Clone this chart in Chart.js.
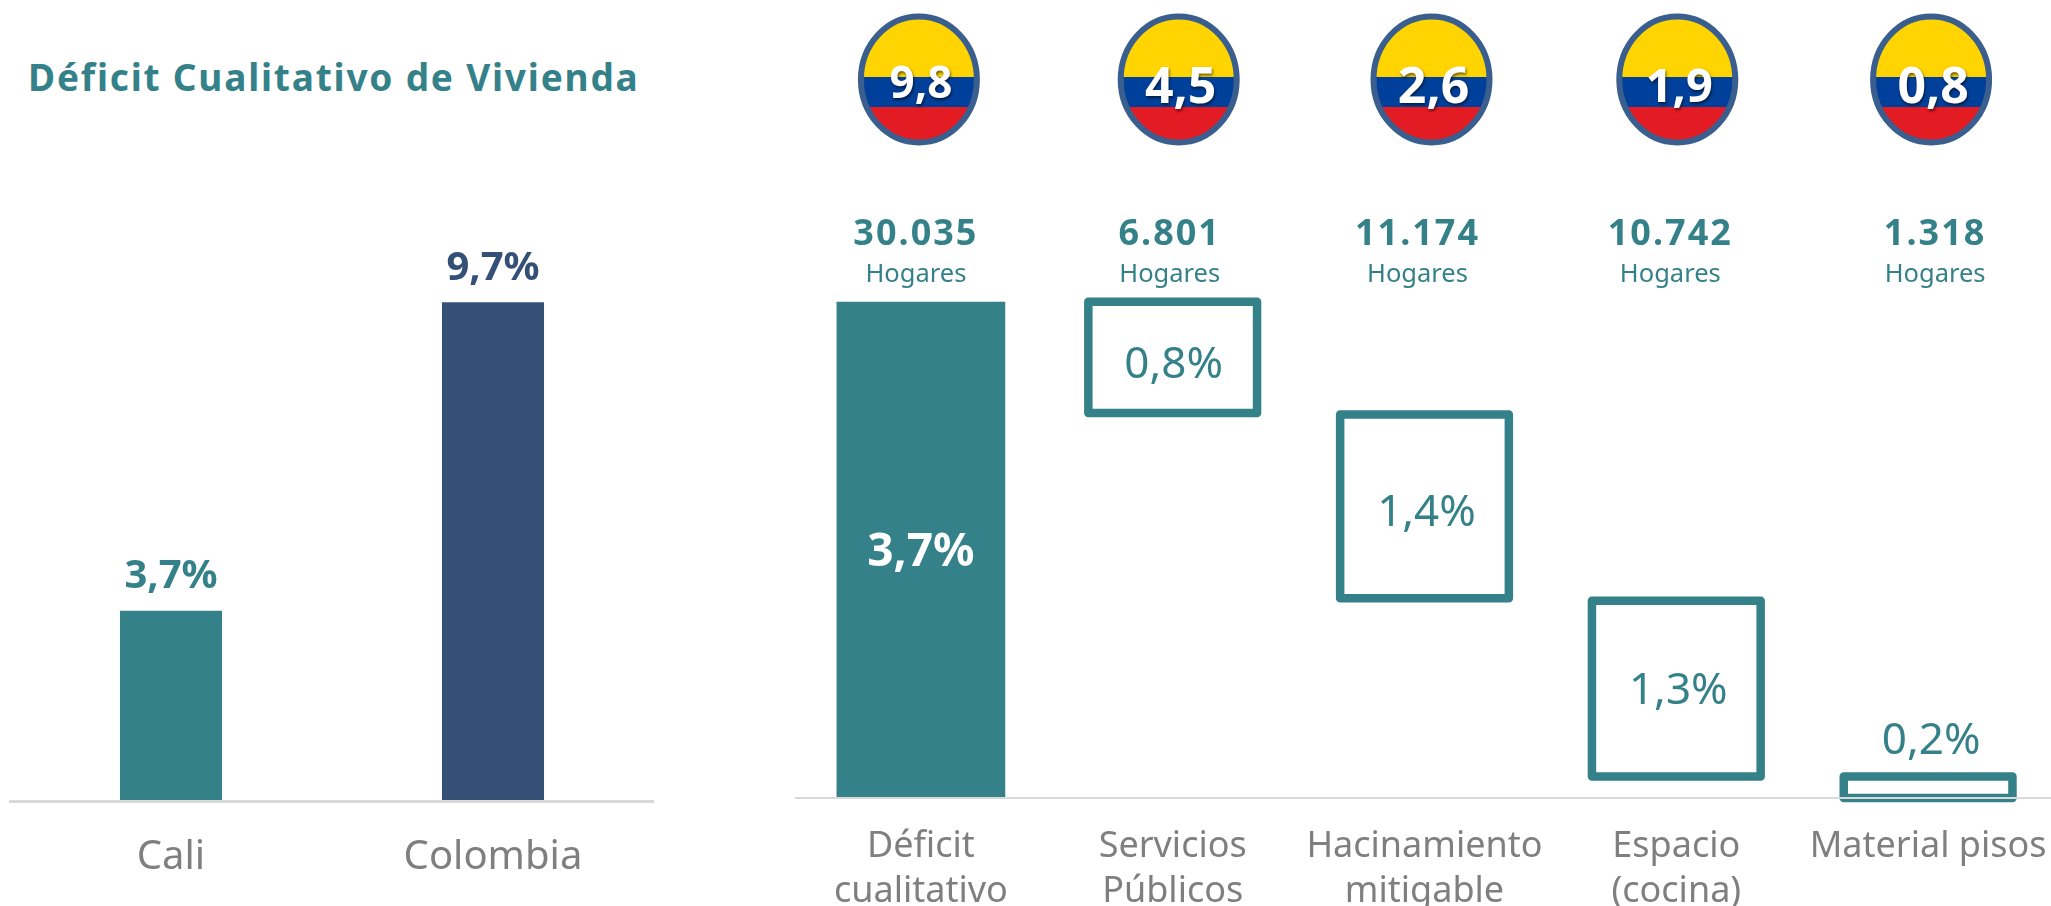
<!DOCTYPE html>
<html><head><meta charset="utf-8">
<script src="https://cdn.jsdelivr.net/npm/chart.js@4"></script>
<style>
html,body{margin:0;padding:0;background:#fff;width:2051px;height:906px;overflow:hidden}
#title{position:absolute;left:28px;top:54px;font:bold 37px "Noto Sans";color:#358189;letter-spacing:1.8px;white-space:nowrap;line-height:46px}
#a{position:absolute;left:0;top:0}
#b{position:absolute;left:795px;top:0}
</style></head><body>
<div id="title">Déficit Cualitativo de Vivienda</div>
<canvas id="a" width="654" height="906"></canvas>
<canvas id="b" width="1259" height="906"></canvas>
<script>
const FONT='"Noto Sans"';
const TEAL='#358189', NAVY='#345076', GREY='#7f7f7f', AXIS='#d9d9d9';

const leftCategories=['Cali','Colombia'];
const leftValues=[3.7,9.7];
const leftLabels=['3,7%','9,7%'];

const rightCategories=[['Déficit','cualitativo'],['Servicios','Públicos'],['Hacinamiento','mitigable'],['Espacio','(cocina)'],'Material pisos'];
const rightRanges=[[0,3.7],[2.87,3.7],[1.49,2.86],[0.16,1.47],[0,0.16]];
const rightLabels=['3,7%','0,8%','1,4%','1,3%','0,2%'];
const households=['30.035','6.801','11.174','10.742','1.318'];
const nationalValues=['9,8','4,5','2,6','1,9','0,8'];

Chart.defaults.animation=false;
Chart.defaults.responsive=false;
Chart.defaults.plugins.legend.display=false;
Chart.defaults.plugins.tooltip.enabled=false;

function xAxis(size,h,pad,lh,bw){return {
  afterFit(a){a.height=h;a.paddingLeft=0;a.paddingRight=0;},
  grid:{display:false,drawTicks:false},
  border:{color:AXIS,width:bw,z:1},
  ticks:{color:GREY,font:{family:FONT,size:size,lineHeight:lh/size},padding:pad,maxRotation:0,autoSkip:false}
};}

const leftPlugin={id:'leftLabels',afterDatasetsDraw(c){
  const ctx=c.ctx,m=c.getDatasetMeta(0);
  ctx.save();ctx.textAlign='center';ctx.textBaseline='middle';
  ctx.font='bold 40px '+FONT;
  m.data.forEach((b,i)=>{ctx.fillStyle=leftValues[i]>5?NAVY:TEAL;ctx.fillText(leftLabels[i],b.x,b.y-34);});
  ctx.restore();
}};

new Chart(document.getElementById('a'),{type:'bar',
  data:{labels:leftCategories,datasets:[{data:leftValues,backgroundColor:[TEAL,NAVY],barPercentage:0.317,categoryPercentage:1}]},
  options:{layout:{padding:{left:10}},scales:{x:xAxis(40,105,34,45,3),y:{display:false,min:0,max:15.58}}},
  plugins:[leftPlugin]});

const flagOffsets=[-2,6,7,1,3], hhOffsets=[-5,-3,-7,-6,7];
const labelDy=[3,8,7,3,-46], labelDx=[0,1,2,2,3];
const flagSizes=[44,50,50,47,50], flagDy=[1,5,5,5,5];
const rightPlugin={id:'rightMarks',afterDatasetsDraw(c){
  const ctx=c.ctx,m=c.getDatasetMeta(0);
  ctx.save();
  ctx.lineJoin='round';ctx.lineWidth=8.5;ctx.strokeStyle=TEAL;
  m.data.forEach((b,i)=>{ if(i===0)return;
    ctx.strokeRect(b.x-b.width/2,Math.min(b.y,b.base),b.width,Math.abs(b.base-b.y));});
  ctx.textAlign='center';ctx.textBaseline='middle';
  m.data.forEach((b,i)=>{
    ctx.font=(i===0?'bold 46px ':'44px ')+FONT;
    ctx.fillStyle=i===0?'#fff':TEAL;
    ctx.fillText(rightLabels[i],b.x+labelDx[i],(b.y+b.base)/2+labelDy[i]);
  });
  m.data.forEach((b,i)=>{
    const x=b.x+hhOffsets[i];
    ctx.fillStyle=TEAL;
    ctx.letterSpacing='2px';
    ctx.font='bold 36px '+FONT;ctx.fillText(households[i],x,235);
    ctx.letterSpacing='0px';
    ctx.font='25.5px '+FONT;ctx.fillText('Hogares',x,275);
  });
  m.data.forEach((b,i)=>{
    const cx=b.x+flagOffsets[i],cy=79.5,rx=58,ry=63;
    ctx.save();
    ctx.beginPath();ctx.ellipse(cx,cy,rx,ry,0,0,Math.PI*2);ctx.clip();
    ctx.fillStyle='#ffd400';ctx.fillRect(cx-rx,cy-ry,rx*2,ry*2);
    ctx.fillStyle='#00409a';ctx.fillRect(cx-rx,77,rx*2,30);
    ctx.fillStyle='#e31b23';ctx.fillRect(cx-rx,107,rx*2,ry*2);
    ctx.restore();
    ctx.beginPath();ctx.ellipse(cx,cy,rx,ry,0,0,Math.PI*2);
    ctx.lineWidth=6;ctx.strokeStyle='#3a5f8f';ctx.stroke();
    ctx.save();
    ctx.shadowColor='rgba(0,0,0,.55)';ctx.shadowBlur=3;ctx.shadowOffsetX=1;ctx.shadowOffsetY=2;
    ctx.fillStyle='#fff';ctx.font='bold '+flagSizes[i]+'px '+FONT;
    ctx.fillText(nationalValues[i],cx+2,84+flagDy[i]);
    ctx.restore();
  });
  ctx.restore();
}};

new Chart(document.getElementById('b'),{type:'bar',
  data:{labels:rightCategories,datasets:[{data:rightRanges,backgroundColor:[TEAL,'rgba(0,0,0,0)','rgba(0,0,0,0)','rgba(0,0,0,0)','rgba(0,0,0,0)'],barPercentage:0.67,categoryPercentage:1}]},
  options:{scales:{x:xAxis(36,108,26,45,2),y:{display:false,min:0,max:5.95}}},
  plugins:[rightPlugin]});
</script>
</body></html>
